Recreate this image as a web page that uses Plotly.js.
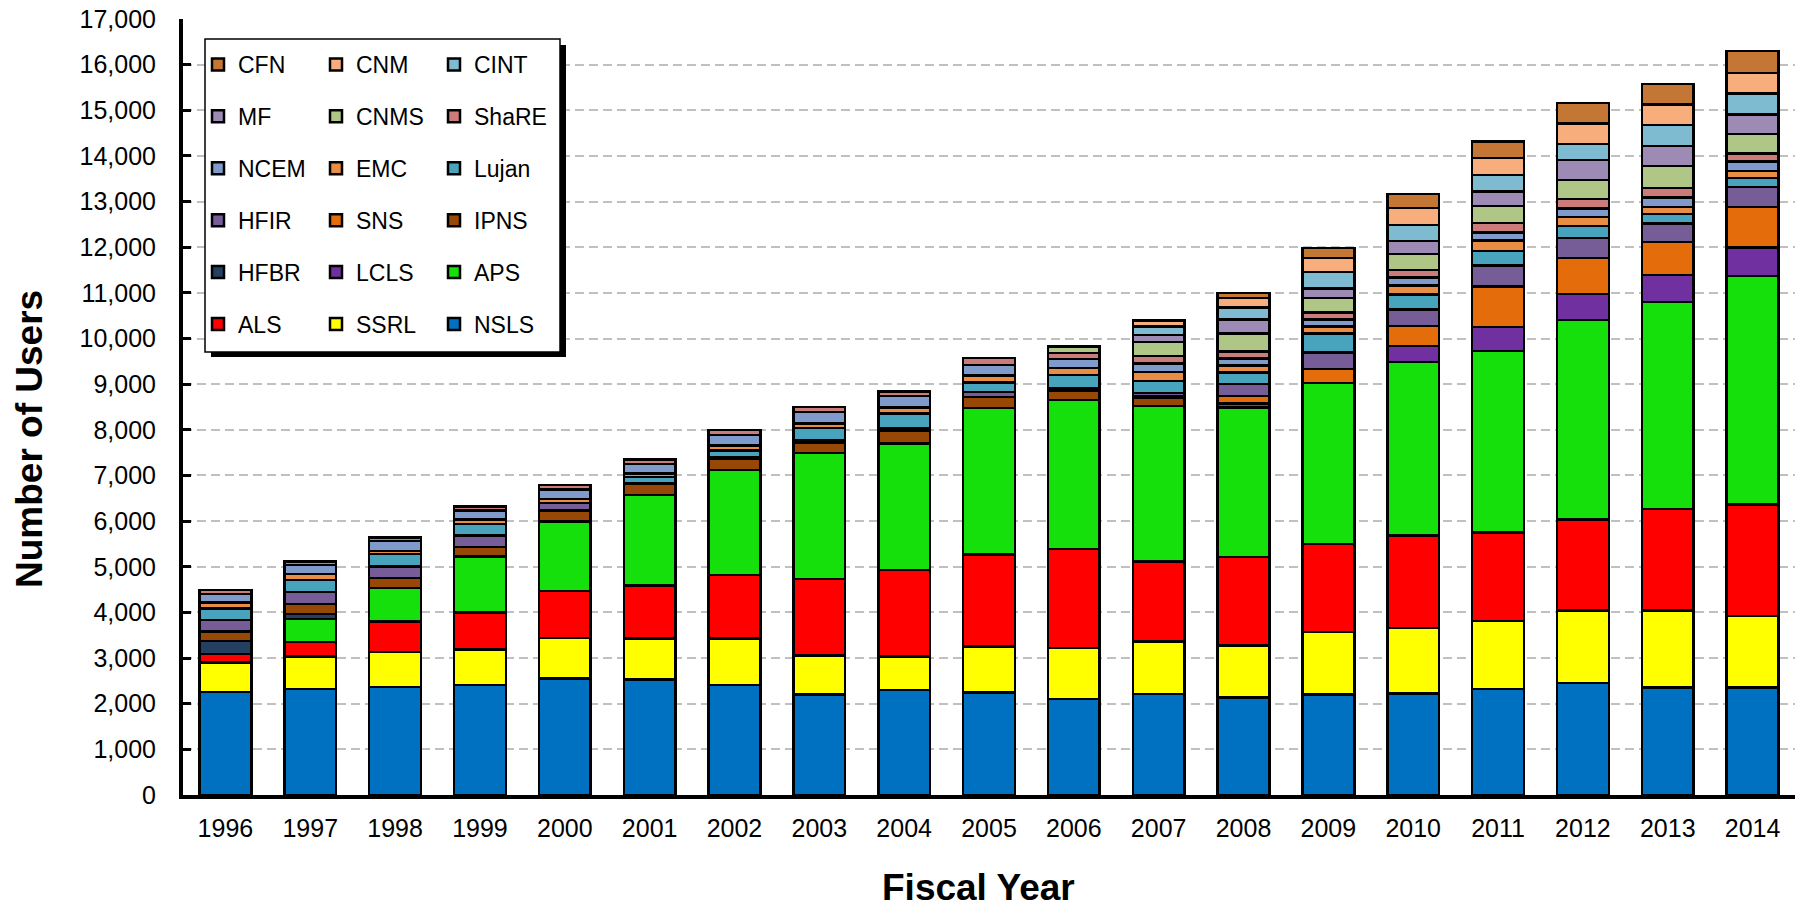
<!DOCTYPE html>
<html>
<head>
<meta charset="utf-8">
<script src="https://cdn.plot.ly/plotly-3.0.1.min.js"></script>
<style>html,body{margin:0;padding:0;background:#fff;}#chart{width:1802px;height:913px;}</style>
</head>
<body>
<div id="chart"></div>
<script>
// ---- data ----
var years = ['1996','1997','1998','1999','2000','2001','2002','2003','2004','2005','2006','2007','2008','2009','2010','2011','2012','2013','2014'];

var NSLS  = [2255,2320,2370,2410,2550,2525,2410,2205,2300,2250,2105,2210,2135,2205,2225,2320,2455,2360,2360];
var SSRL  = [645,715,765,780,885,900,1020,855,735,1000,1115,1150,1145,1365,1430,1495,1590,1685,1560];
var ALS   = [185,315,665,810,1035,1170,1390,1670,1890,2015,2165,1760,1935,1930,2035,1940,1995,2220,2445];
var APS   = [0,510,730,1220,1525,1980,2300,2760,2780,3210,3265,3400,3270,3525,3795,3970,4365,4540,5005];
var LCLS  = [0,0,0,0,0,0,0,0,0,0,0,0,0,0,350,525,570,590,620];
var HFBR  = [285,105,0,0,0,0,0,0,0,0,0,0,0,0,0,0,0,0,0];
var IPNS  = [210,220,225,210,240,250,255,235,270,245,215,190,95,0,0,0,0,0,0];
var SNS   = [0,0,0,0,0,0,0,0,0,0,0,30,160,305,440,890,790,725,890];
var HFIR  = [250,265,255,255,165,0,15,45,55,105,45,70,260,360,365,465,440,395,445];
var Lujan = [260,265,265,255,0,140,155,275,330,210,295,255,255,415,330,315,265,210,190];
var EMC   = [125,130,75,95,90,75,110,95,130,155,145,200,155,155,190,225,195,160,155];
var NCEM  = [185,190,210,195,205,210,235,250,250,230,200,190,155,155,175,180,185,210,205];
var ShaRE = [95,80,85,85,100,95,110,115,105,150,130,160,155,155,170,210,210,205,175];
var CNMS  = [0,0,0,0,0,0,0,0,0,0,145,305,390,315,345,370,415,480,430];
var MF    = [0,0,0,0,0,0,0,0,0,0,0,160,305,215,285,320,440,440,425];
var CINT  = [0,0,0,0,0,0,0,0,0,0,0,185,270,360,350,360,350,455,465];
var CNM   = [0,0,0,0,0,0,0,0,0,0,0,125,200,300,380,370,445,455,450];
var CFN   = [0,0,0,0,0,0,0,0,0,0,0,0,110,225,300,360,455,450,475];

var xTitle = 'Fiscal Year';
var yTitle = 'Number of Users';

// ---- series, bottom of the stack first ----
var series = [
  {name:'NSLS',  y:NSLS,  color:'#0070C0', legend:'legend3'},
  {name:'SSRL',  y:SSRL,  color:'#FFFF00', legend:'legend2'},
  {name:'ALS',   y:ALS,   color:'#FF0000', legend:'legend'},
  {name:'APS',   y:APS,   color:'#16E00B', legend:'legend3'},
  {name:'LCLS',  y:LCLS,  color:'#7030A0', legend:'legend2'},
  {name:'HFBR',  y:HFBR,  color:'#243F60', legend:'legend'},
  {name:'IPNS',  y:IPNS,  color:'#974806', legend:'legend3'},
  {name:'SNS',   y:SNS,   color:'#E46C0A', legend:'legend2'},
  {name:'HFIR',  y:HFIR,  color:'#775D97', legend:'legend'},
  {name:'Lujan', y:Lujan, color:'#48A4BC', legend:'legend3'},
  {name:'EMC',   y:EMC,   color:'#EA8D44', legend:'legend2'},
  {name:'NCEM',  y:NCEM,  color:'#7E9BCB', legend:'legend'},
  {name:'ShaRE', y:ShaRE, color:'#CC7B7B', legend:'legend3'},
  {name:'CNMS',  y:CNMS,  color:'#AFC687', legend:'legend2'},
  {name:'MF',    y:MF,    color:'#9D8BB5', legend:'legend'},
  {name:'CINT',  y:CINT,  color:'#7FBBD0', legend:'legend3'},
  {name:'CNM',   y:CNM,   color:'#F8AD7C', legend:'legend2'},
  {name:'CFN',   y:CFN,   color:'#C47635', legend:'legend'}
];

var traces = series.map(function(s, i){
  return {
    type:'bar', name:s.name, x:years, y:s.y,
    legend:s.legend, legendgroup:s.name, legendrank:100 - i,
    marker:{color:s.color, line:{color:'#000', width:2.5}},
    hoverinfo:'x+y+name'
  };
});

var FONT = 'Arial, "Liberation Sans", sans-serif';
var W = 1802, H = 913, L = 183, R = 7, T = 19, B = 118;
var pw = W - L - R, ph = H - T - B;
function px(x){ return (x - L) / pw; }
function py(y){ return (H - B - y) / ph; }

var legendBase = {
  bgcolor:'rgba(0,0,0,0)', borderwidth:0,
  font:{family:FONT, size:23, color:'#000'},
  traceorder:'grouped', tracegroupgap:19,
  xanchor:'left', yanchor:'top', y:py(43)
};

var titleFont = {family:FONT, size:37, color:'#000', weight:'bold'};

var layout = {
  width:W, height:H,
  margin:{l:L, r:R, t:T, b:B, pad:0},
  paper_bgcolor:'#fff', plot_bgcolor:'#fff',
  barmode:'stack', bargap:0.39,
  font:{family:FONT, color:'#000'},
  showlegend:true,
  legend:  Object.assign({}, legendBase, {x:px(198)}),
  legend2: Object.assign({}, legendBase, {x:px(316)}),
  legend3: Object.assign({}, legendBase, {x:px(434)}),
  xaxis:{
    type:'category',
    showline:true, linecolor:'#000', linewidth:4,
    ticks:'', showgrid:false, zeroline:false,
    tickfont:{family:FONT, size:25, color:'#000'},
    ticklabelstandoff:8
  },
  yaxis:{
    range:[0,17000], dtick:1000, tickformat:',d',
    showline:true, linecolor:'#000', linewidth:4,
    ticks:'inside', ticklen:8, tickwidth:3, tickcolor:'#000',
    showgrid:true, gridcolor:'#C0C0C0', gridwidth:2, griddash:'9px,5px',
    zeroline:false,
    tickfont:{family:FONT, size:25, color:'#000'},
    ticklabelstandoff:18
  },
  annotations:[
    {text:xTitle, xref:'paper', yref:'paper', x:px(978), y:py(887),
     xanchor:'center', yanchor:'middle', showarrow:false, borderpad:0, font:titleFont},
    {text:yTitle, xref:'paper', yref:'paper', x:px(29), y:py(439),
     xanchor:'center', yanchor:'middle', showarrow:false, textangle:-90, font:titleFont}
  ],
  shapes:[
    {type:'rect', xref:'paper', yref:'paper', layer:'above',
     x0:px(211), x1:px(566), y0:py(357), y1:py(45),
     fillcolor:'#000', line:{width:0}},
    {type:'rect', xref:'paper', yref:'paper', layer:'above',
     x0:px(205), x1:px(560), y0:py(352), y1:py(39),
     fillcolor:'#fff', line:{color:'#000', width:1.5}}
  ]
};

Plotly.newPlot('chart', traces, layout, {displayModeBar:false});
</script>
</body>
</html>
